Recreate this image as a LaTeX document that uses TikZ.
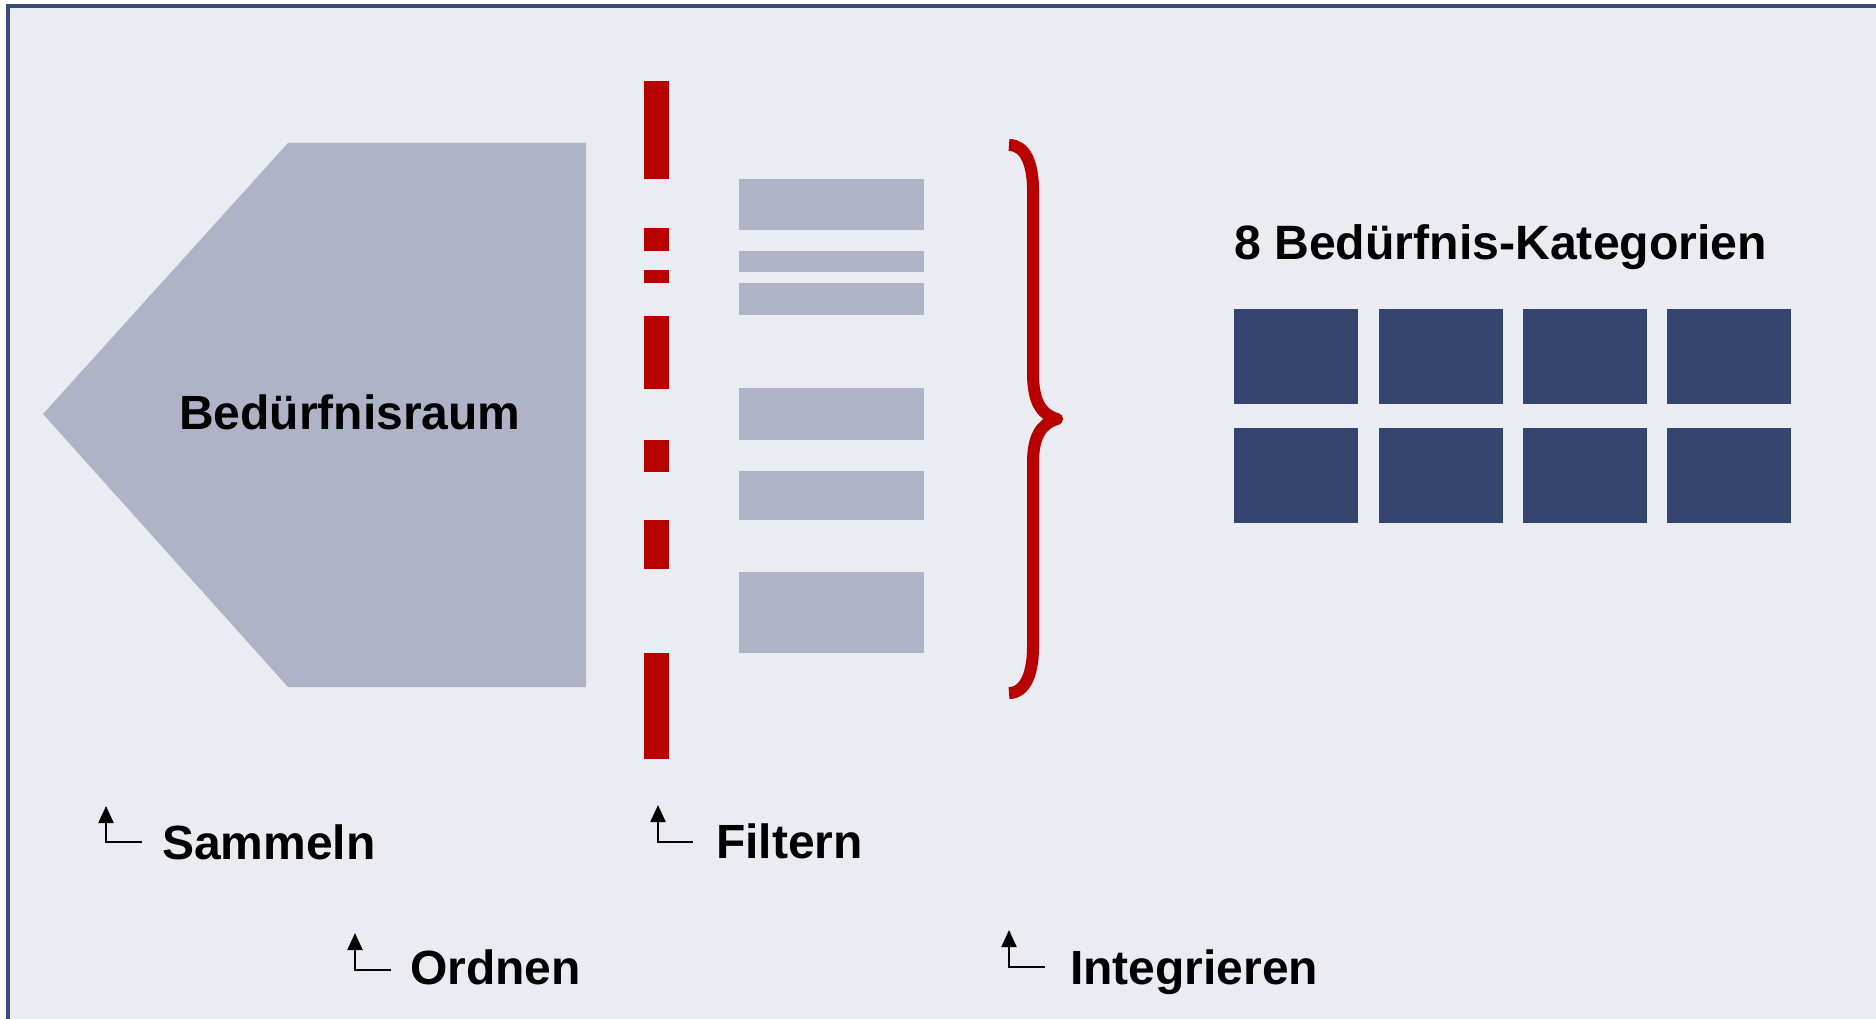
\documentclass[tikz,border=0pt]{standalone}
\usepackage{fontspec}
\setmainfont{Liberation Sans}
\usetikzlibrary{arrows.meta}

\definecolor{panelbg}{HTML}{EBECF1}
\definecolor{panelframe}{HTML}{3B4A7C}
\definecolor{softgray}{HTML}{AEB3C8}
\definecolor{filterred}{HTML}{B80000}
\definecolor{navyblock}{HTML}{35446F}

\tikzset{
  graybar/.style={fill=softgray},
  redbar/.style={fill=filterred},
  catbox/.style={fill=navyblock},
  steplabel/.style={anchor=base west, inner sep=0pt, font=\bfseries\fontsize{48}{55}\selectfont},
  hookarrow/.style={draw=black, line width=2.2pt, -{Triangle[width=15pt,length=17pt]}},
}

\begin{document}
\begin{tikzpicture}[x=1pt,y=-1pt]
  \useasboundingbox (0,0) rectangle (1876,1019);
  \clip (0,0) rectangle (1876,1019);
  \fill[white] (0,0) rectangle (1876,1019);

  % panel
  \draw[panelframe, line width=4pt, fill=panelbg] (8,6) rectangle (1880,1030);

  % the need space (pentagon)
  \fill[graybar] (43,414) -- (288,143) -- (586,143) -- (586,687) -- (288,687) -- cycle;
  \node[anchor=base west, inner sep=0pt, font=\bfseries\fontsize{48}{55}\selectfont] (raum) at (179,429) {Bedürfnisraum};

  % dashed filter line
  \foreach \ya/\yb in {81/179, 228/251, 270/283, 316/389, 440/472, 520/569, 653/759}
    \fill[redbar] (644,\ya) rectangle (669,\yb);

  % filtered items
  \foreach \ya/\yb in {179/230, 251/272, 283/315, 388/440, 471/520, 572/653}
    \fill[graybar] (739,\ya) rectangle (924,\yb);

  % curly brace
  \draw[filterred, line width=12pt, line join=round]
    (1009,145) .. controls (1026,145) and (1033,165) .. (1033,190)
    -- (1033,373) .. controls (1033,400) and (1040,414) .. (1057,419)
    .. controls (1040,424) and (1033,438) .. (1033,463)
    -- (1033,647) .. controls (1033,672) and (1026,693) .. (1009,693);

  % categories
  \node[anchor=base west, inner sep=0pt, font=\bfseries\fontsize{48.2}{55}\selectfont] (kat) at (1234,259) {8 Bedürfnis-Kategorien};
  \foreach \xa/\xb in {1234/1358, 1379/1503, 1523/1647, 1667/1791}{
    \fill[catbox] (\xa,309) rectangle (\xb,404);
    \fill[catbox] (\xa,428) rectangle (\xb,523);
  }

  % step labels with hook arrows
  \node[steplabel] (sammeln) at (162,859) {Sammeln};
  \coordinate (sA) at (142,842); \coordinate (sB) at (106,842); \coordinate (sC) at (106,806);
  \draw[hookarrow] (sA) -- (sB) -- (sC);

  \node[steplabel] (ordnen) at (410,984) {Ordnen};
  \coordinate (oA) at (391,970); \coordinate (oB) at (355,970); \coordinate (oC) at (355,933);
  \draw[hookarrow] (oA) -- (oB) -- (oC);

  \node[steplabel] (filtern) at (716,858) {Filtern};
  \coordinate (fA) at (693,842); \coordinate (fB) at (658,842); \coordinate (fC) at (658,805);
  \draw[hookarrow] (fA) -- (fB) -- (fC);

  \node[steplabel] (integrieren) at (1070,984) {Integrieren};
  \coordinate (iA) at (1045,967); \coordinate (iB) at (1009,967); \coordinate (iC) at (1009,930);
  \draw[hookarrow] (iA) -- (iB) -- (iC);
\end{tikzpicture}
\end{document}
